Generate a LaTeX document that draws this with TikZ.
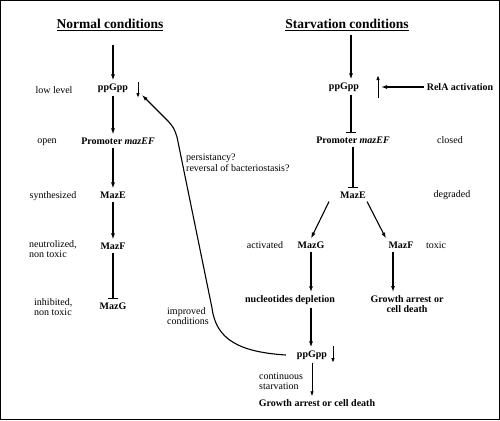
\documentclass[tikz,border=0pt]{standalone}
\usepackage{fontspec}
\setmainfont{Liberation Serif}
\usetikzlibrary{arrows.meta}
\tikzset{
  ttl/.style={font=\fontsize{13.5}{15}\selectfont\bfseries, inner sep=1pt},
  lbl/.style={font=\fontsize{10}{10.5}\selectfont\bfseries, inner sep=3pt, align=center},
  note/.style={font=\fontsize{10}{10.5}\selectfont, inner sep=0pt, align=left},
  ar/.style={-{Latex[length=6pt,width=4pt]}, line width=1.1pt},
  sar/.style={-{Latex[length=5pt,width=3.5pt]}, line width=1pt},
  blk/.style={-{Bar[width=10pt,line width=1.1pt]}, line width=1.1pt}
}
\begin{document}
\begin{tikzpicture}[x=1pt,y=-1pt]
\useasboundingbox (0,0) rectangle (500,420);
\draw[line width=1.4pt] (0.7,0.7) rectangle (499.3,419.3);

% normal conditions
\draw
(110,25) node[ttl](nt){\underline{Normal conditions}}
(113,88) node[lbl](p1){ppGpp}
(118,141) node[lbl](pr1){Promoter \textit{mazEF}}
(113,195) node[lbl](e1){MazE}
(113,246) node[lbl](f1){MazF}
(113,306) node[lbl](g1){MazG};

\draw
(54,90) node[note](n1){low level}
(47,142) node[note](n2){open}
(53,196) node[note](n3){synthesized}
(29,249) node[note, anchor=west](n4){neutrolized,\\non toxic}
(34,307) node[note, anchor=west](n5){inhibited,\\non toxic};

\coordinate (c1) at (113,45);
\coordinate (i1a) at (138,82);
\coordinate (i1b) at (138,98);

\draw[ar] (c1) -- (p1);
\draw[sar] (i1a) -- (i1b);
\draw[ar] (p1) -- (p1 |- pr1.north);
\draw[ar] (p1 |- pr1.south) -- (e1);
\draw[ar] (e1) -- (f1);
\draw[blk] (f1) -- (g1);

% starvation conditions
\draw
(347,25) node[ttl](st){\underline{Starvation conditions}}
(344,87) node[lbl](p2){ppGpp}
(460,87) node[lbl](r2){RelA activation}
(353,140) node[lbl](pr2){Promoter \textit{mazEF}}
(353,195) node[lbl](e2){MazE}
(311,245) node[lbl](g2){MazG}
(401,245) node[lbl](f2){MazF}
(290,300) node[lbl](nu){nucleotides depletion}
(407,304) node[lbl](ga){Growth arrest or\\cell death}
(312,355) node[lbl](p3){ppGpp}
(317,403) node[lbl](gb){Growth arrest or cell death};

\draw
(450,140) node[note](n6){closed}
(452,195) node[note](n7){degraded}
(265,245) node[note](n8){activated}
(436,245) node[note](n9){toxic}
(259,381) node[note, anchor=west](n10){continuous\\starvation}
(186,163) node[note, anchor=west](n11){persistancy?\\reversal of bacteriostasis?}
(167,316) node[note, anchor=west](n12){improved\\conditions};

\coordinate (c2) at (351,35);
\coordinate (i2a) at (378,98);
\coordinate (i2b) at (378,75);
\coordinate (i2c) at (381,87);
\coordinate (i3a) at (333,346);
\coordinate (i3b) at (333,363);
\coordinate (tp) at (142,95);

\draw[ar] (c2) -- (c2 |- p2.north);
\draw[sar] (i2a) -- (i2b);
\draw[ar] (r2) -- (i2c);
\draw[blk] (c2 |- p2.south) -- (c2 |- pr2.north);
\draw[blk] (pr2) -- (e2);
\draw[ar] ([xshift=-24pt]e2.south) -- (g2.north);
\draw[ar] ([xshift=14pt]e2.south) -- ([xshift=-15pt]f2.north);
\draw[ar] (g2) -- (g2 |- nu.north);
\draw[ar] ([xshift=-8pt]f2.south) -- ([xshift=-8pt]f2.south |- ga.north);
\draw[ar] (g2 |- nu.south) -- (g2 |- p3.north);
\draw[sar] (i3a) -- (i3b);
\draw[-{Latex[length=5pt,width=3.5pt]}, line width=0.7pt] (p3) -- (p3 |- gb.north);

% way back
\draw[ar] ([xshift=-8pt]p3.west) .. controls (240,352) and (216,340) .. (212,308)
  -- (177,137) .. controls (174,128) .. (168,121) -- (tp);

\end{tikzpicture}
\end{document}
